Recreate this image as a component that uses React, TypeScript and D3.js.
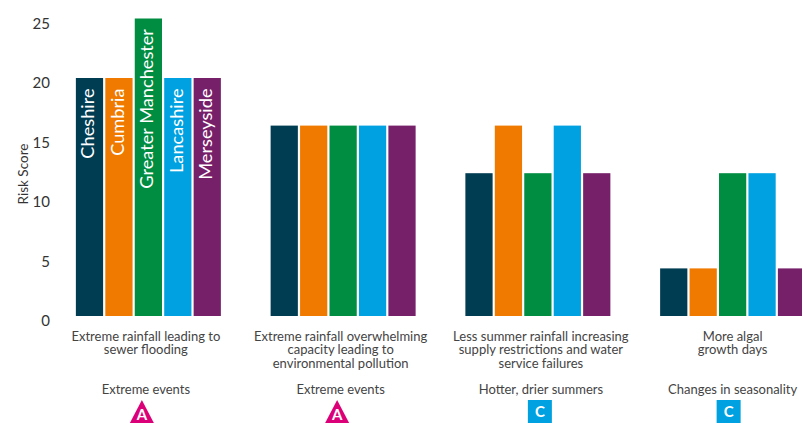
import React from "react";
import * as d3 from "d3";

const regions = ["Cheshire", "Cumbria", "Greater Manchester", "Lancashire", "Merseyside"];
const regionColors = ["#003c52", "#f07a00", "#008c41", "#00a1e0", "#76206a"];
const riskLines = [
  ["Extreme rainfall leading to", "sewer flooding"],
  ["Extreme rainfall overwhelming", "capacity leading to", "environmental pollution"],
  ["Less summer rainfall increasing", "supply restrictions and water", "service failures"],
  ["More algal", "growth days"],
];
const themes = ["Extreme events", "Extreme events", "Hotter, drier summers", "Changes in seasonality"];
const ratings = ["A", "A", "C", "C"];
const ratingColors: Record<string, string> = { A: "#dc0078", C: "#00a1e0" };
const scores = [
  [20, 20, 25, 20, 20],
  [16, 16, 16, 16, 16],
  [12, 16, 12, 16, 12],
  [4, 4, 12, 12, 4],
];
const yTicks = [0, 5, 10, 15, 20, 25];

const FONT = "Lato, 'Noto Sans', sans-serif";

// Captions and rating badges sit slightly off the centre of their bar group.
const captionNudge = [-2.5, -2.5, 3, 0];
const badgeNudge = [-6.5, -6, 2, -4];

export default function App() {
  const y = d3.scaleLinear().domain([0, 25]).range([316, 18.5]);
  const groups = d3.scaleBand<number>().domain(d3.range(4)).range([51, 830]);
  const bars = d3.scaleBand<string>().domain(regions).range([0, 145]).paddingInner(0.075).paddingOuter(0);
  const inset = (groups.bandwidth() - 145) / 2;

  return (
    <svg
      width={802}
      height={423}
      viewBox="0 0 802 423"
      style={{ position: "absolute", left: 0, top: 0, background: "#fff", fontFamily: FONT }}
    >
      {yTicks.map((t) => (
        <text key={t} x={50} y={y(t) + 5} dy="0.35em" textAnchor="end" fontSize={15} fill="#333">
          {t}
        </text>
      ))}
      <text transform="translate(23,174) rotate(-90)" textAnchor="middle" dy="0.35em" fontSize={13.5} fill="#333">
        Risk Score
      </text>

      {scores.map((row, g) => {
        const gx = groups(g)! + inset;
        const cx = gx + 72.5;
        const captionX = cx + captionNudge[g];
        const badgeX = cx + badgeNudge[g];
        return (
          <g key={g}>
            {row.map((v, i) => (
              <rect
                key={regions[i]}
                x={gx + bars(regions[i])!}
                y={y(v)}
                width={bars.bandwidth()}
                height={y(0) - y(v)}
                fill={regionColors[i]}
              />
            ))}
            {g === 0 &&
              row.map((v, i) => (
                <text
                  key={regions[i]}
                  transform={`translate(${gx + bars(regions[i])! + bars.bandwidth() / 2 - 1.5},${y(v) + 10.5}) rotate(-90)`}
                  textAnchor="end"
                  dy="0.35em"
                  fontSize={18.2}
                  fill="#fff"
                >
                  {regions[i]}
                </text>
              ))}
            <text textAnchor="middle" fontSize={13} fill="#444">
              {riskLines[g].map((line, k) => (
                <tspan key={k} x={captionX} y={341 + k * 13.3}>
                  {line}
                </tspan>
              ))}
            </text>
            <text x={captionX} y={394} textAnchor="middle" fontSize={13} fill="#444">
              {themes[g]}
            </text>
            {ratings[g] === "A" ? (
              <path d={`M${badgeX},400 L${badgeX + 12},423 L${badgeX - 12},423 Z`} fill={ratingColors.A} />
            ) : (
              <rect x={badgeX - 12} y={400} width={24} height={23} fill={ratingColors.C} />
            )}
            <text
              x={badgeX}
              y={ratings[g] === "A" ? 420 : 417}
              textAnchor="middle"
              fontSize={15}
              fontWeight={700}
              fill="#fff"
            >
              {ratings[g]}
            </text>
          </g>
        );
      })}
    </svg>
  );
}
